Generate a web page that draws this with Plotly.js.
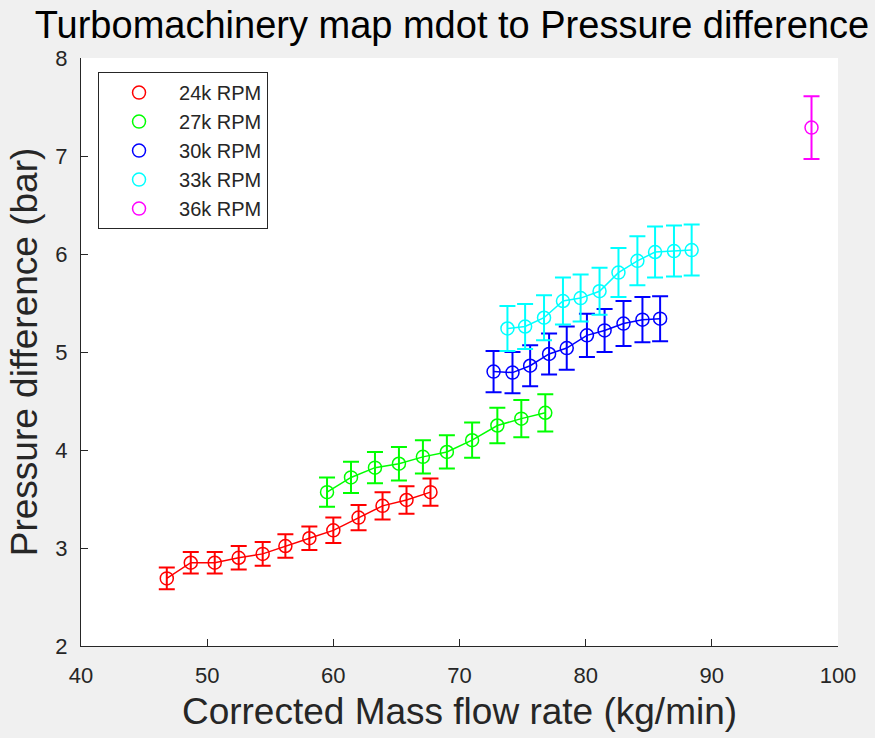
<!DOCTYPE html>
<html>
<head>
<meta charset="utf-8">
<script src="https://cdn.plot.ly/plotly-3.0.1.min.js"></script>
<style>html,body{margin:0;padding:0;background:#f0f0f0;}#chart{width:875px;height:738px;}</style>
</head>
<body>
<div id="chart"></div>
<script>
// Series data
var seriesNames = ["24k RPM", "27k RPM", "30k RPM", "33k RPM", "36k RPM"];
var seriesColors = ["#ff0000", "#00ff00", "#0000ff", "#00ffff", "#ff00ff"];

var rpm24_x = [46.8, 48.7, 50.6, 52.5, 54.4, 56.2, 58.1, 60.0, 62.0, 63.9, 65.8, 67.7];
var rpm24_y = [2.69, 2.85, 2.85, 2.90, 2.94, 3.02, 3.10, 3.18, 3.31, 3.43, 3.49, 3.57];
var rpm24_err = [0.11, 0.11, 0.11, 0.12, 0.12, 0.12, 0.12, 0.13, 0.13, 0.14, 0.14, 0.14];

var rpm27_x = [59.5, 61.4, 63.3, 65.2, 67.1, 69.0, 71.0, 73.0, 74.9, 76.8];
var rpm27_y = [3.57, 3.72, 3.82, 3.86, 3.93, 3.98, 4.10, 4.25, 4.32, 4.38];
var rpm27_err = [0.15, 0.16, 0.16, 0.17, 0.17, 0.17, 0.18, 0.18, 0.19, 0.19];

var rpm30_x = [72.7, 74.2, 75.6, 77.1, 78.5, 80.1, 81.5, 83.0, 84.5, 85.9];
var rpm30_y = [4.80, 4.79, 4.86, 4.98, 5.04, 5.17, 5.22, 5.29, 5.33, 5.34];
var rpm30_err = [0.21, 0.21, 0.21, 0.21, 0.22, 0.22, 0.22, 0.23, 0.23, 0.23];

var rpm33_x = [73.8, 75.2, 76.7, 78.2, 79.6, 81.1, 82.6, 84.1, 85.5, 87.0, 88.4];
var rpm33_y = [5.24, 5.26, 5.35, 5.52, 5.55, 5.62, 5.81, 5.93, 6.02, 6.03, 6.04];
var rpm33_err = [0.23, 0.23, 0.23, 0.24, 0.24, 0.24, 0.25, 0.25, 0.26, 0.26, 0.26];

var rpm36_x = [97.9];
var rpm36_y = [7.29];
var rpm36_err = [0.32];

var xTicks = [40, 50, 60, 70, 80, 90, 100];
var yTicks = [2, 3, 4, 5, 6, 7, 8];

var allX = [rpm24_x, rpm27_x, rpm30_x, rpm33_x, rpm36_x];
var allY = [rpm24_y, rpm27_y, rpm30_y, rpm33_y, rpm36_y];
var allE = [rpm24_err, rpm27_err, rpm30_err, rpm33_err, rpm36_err];

var FONT = "Liberation Sans, Arial, Helvetica, sans-serif";
var traces = [];
// connecting lines (no legend)
for (var i = 0; i < allX.length; i++) {
  if (allX[i].length > 1) {
    traces.push({
      x: allX[i], y: allY[i], type: "scatter", mode: "lines",
      line: {color: seriesColors[i], width: 1.5},
      showlegend: false, hoverinfo: "skip", legendgroup: "g" + i
    });
  }
}
// markers + error bars
for (var j = 0; j < allX.length; j++) {
  traces.push({
    x: allX[j], y: allY[j], type: "scatter", mode: "markers",
    name: seriesNames[j], legendgroup: "g" + j,
    marker: {symbol: "circle-open", size: 13, color: seriesColors[j], line: {width: 1.5, color: seriesColors[j]}},
    error_y: {type: "data", array: allE[j], visible: true, color: seriesColors[j], thickness: 2, width: 8}
  });
}

var layout = {
  width: 875, height: 738,
  paper_bgcolor: "#f0f0f0", plot_bgcolor: "#ffffff",
  margin: {l: 81, r: 37, t: 58, b: 92},
  font: {family: FONT, color: "#262626"},
  title: {
    text: "Turbomachinery map mdot to Pressure difference",
    font: {family: FONT, size: 38, color: "#000000"},
    xref: "paper", x: 0.49, xanchor: "center",
    yref: "container", y: 0.967, yanchor: "middle"
  },
  xaxis: {
    range: [40, 100], tickvals: xTicks, ticktext: xTicks.map(String),
    showgrid: false, zeroline: false, showline: true, linecolor: "#262626", linewidth: 1,
    ticks: "inside", ticklen: 7, tickcolor: "#262626", tickwidth: 1,
    tickfont: {family: FONT, size: 22, color: "#262626"},
    ticklabelstandoff: 10,
    title: {text: "Corrected Mass flow rate (kg/min)", font: {family: FONT, size: 37, color: "#262626"}, standoff: 10}
  },
  yaxis: {
    range: [2, 8], tickvals: yTicks, ticktext: yTicks.map(String),
    showgrid: false, zeroline: false, showline: true, linecolor: "#262626", linewidth: 1,
    ticks: "inside", ticklen: 7, tickcolor: "#262626", tickwidth: 1,
    tickfont: {family: FONT, size: 22, color: "#262626"},
    ticklabelstandoff: 8,
    title: {text: "Pressure difference (bar)", font: {family: FONT, size: 37, color: "#262626"}, standoff: 6}
  },
  legend: {
    x: 0.0225, y: 0.976, xanchor: "left", yanchor: "top",
    bgcolor: "#ffffff", bordercolor: "#262626", borderwidth: 1,
    font: {family: FONT, size: 20, color: "#262626"},
    itemwidth: 70, tracegroupgap: 0
  },
  showlegend: true
};

Plotly.newPlot("chart", traces, layout, {displayModeBar: false, staticPlot: true});
</script>
</body>
</html>
